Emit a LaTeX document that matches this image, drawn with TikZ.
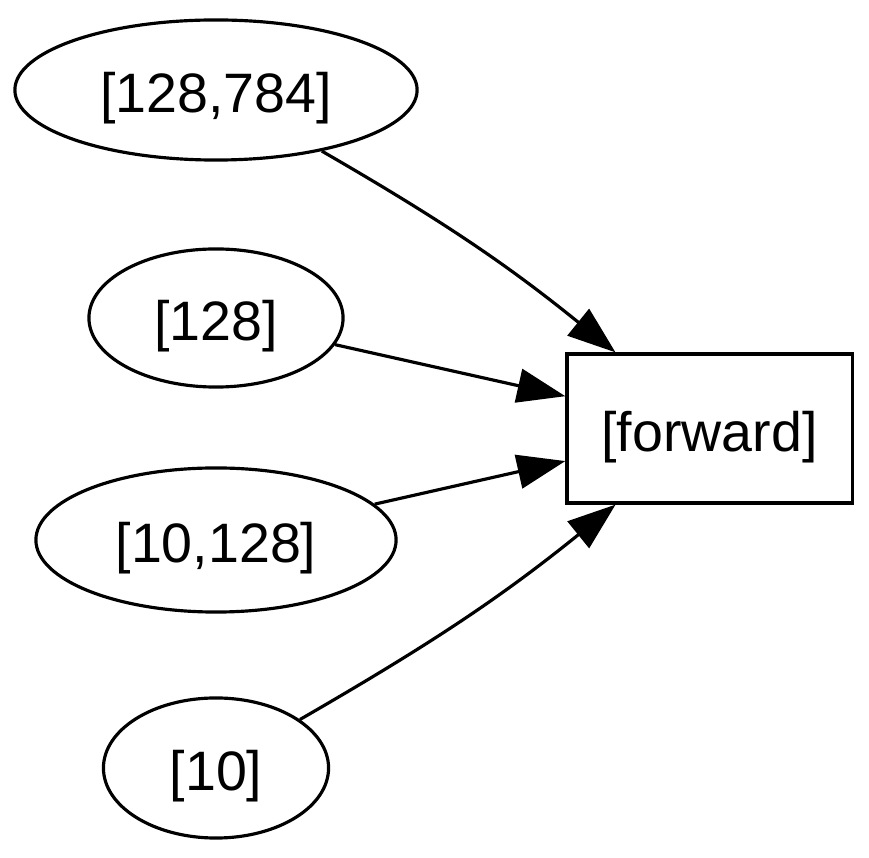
\documentclass[tikz,border=0pt]{standalone}
\usepackage{fontspec}
\setmainfont{Liberation Sans}
\usetikzlibrary{shapes.geometric,arrows.meta}
\begin{document}
\begin{tikzpicture}[x=0.01cm,y=-0.01cm,
  lbl/.style={font=\fontsize{15.8}{19}\selectfont,line width=0.9pt,inner sep=0pt,text height=0.57cm,text depth=0.12cm},
  ell/.style={lbl,draw,ellipse},
  box/.style={lbl,draw,rectangle},
  edge/.style={line width=0.9pt,-{Triangle[length=0.48cm,width=0.34cm]}}]
\useasboundingbox (0,0) rectangle (869,858);
\node[ell,minimum width=4.02cm,minimum height=1.40cm] (n1) at (216,90) {[128,784]};
\node[ell,minimum width=2.54cm,minimum height=1.38cm] (n2) at (216,318) {[128]};
\node[ell,minimum width=3.60cm,minimum height=1.44cm] (n3) at (216,540) {[10,128]};
\node[ell,minimum width=2.25cm,minimum height=1.40cm] (n4) at (216,768) {[10]};
\node[box,minimum width=2.85cm,minimum height=1.49cm] (f) at (709.5,428.5) {[forward]};
\draw[edge] (n1) to[out=-30,in=141] (f);
\draw[edge] (n2) -- (f);
\draw[edge] (n3) -- (f);
\draw[edge] (n4) to[out=30,in=-141] (f);
\end{tikzpicture}
\end{document}
